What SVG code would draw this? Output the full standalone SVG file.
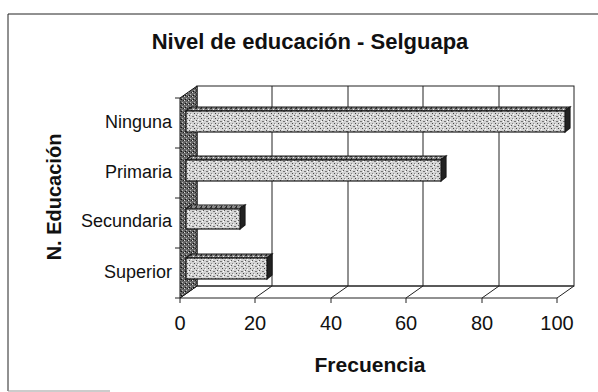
<svg xmlns="http://www.w3.org/2000/svg" width="598" height="392" viewBox="0 0 598 392">
<defs>
<pattern id="pFront" width="7" height="5" patternUnits="userSpaceOnUse">
<rect width="7" height="5" fill="#d4d4d4"/>
<rect x="0" y="0" width="1" height="1" fill="#555"/>
<rect x="3" y="1" width="2" height="1" fill="#777"/>
<rect x="5" y="3" width="1" height="1" fill="#444"/>
<rect x="1" y="3" width="1" height="1" fill="#888"/>
<rect x="2" y="4" width="1" height="1" fill="#fff"/>
<rect x="6" y="1" width="1" height="1" fill="#fff"/>
</pattern>
<pattern id="pTop" width="5" height="3" patternUnits="userSpaceOnUse">
<rect width="5" height="3" fill="#888"/>
<rect x="0" y="0" width="2" height="1" fill="#333"/>
<rect x="3" y="1" width="1" height="1" fill="#eee"/>
<rect x="1" y="2" width="1" height="1" fill="#222"/>
</pattern>
<pattern id="pWall" width="4" height="4" patternUnits="userSpaceOnUse">
<rect width="4" height="4" fill="#666"/>
<rect x="0" y="0" width="1" height="1" fill="#ddd"/>
<rect x="2" y="2" width="1" height="1" fill="#bbb"/>
<rect x="3" y="0" width="1" height="1" fill="#222"/>
<rect x="1" y="3" width="1" height="1" fill="#111"/>
</pattern>
</defs>
<style>
.ln{stroke:#222;stroke-width:1;fill:none}
.bar{stroke:#1a1a1a;stroke-width:1.2}
.cat{font-family:"Liberation Sans",Arial,sans-serif;font-size:18px;fill:#111;text-anchor:end}
.tick{font-family:"Liberation Sans",Arial,sans-serif;font-size:20px;fill:#111;text-anchor:middle}
.ttl{font-family:"Liberation Sans",Arial,sans-serif;font-weight:bold;fill:#111;text-anchor:middle}
</style>
<rect width="598" height="392" fill="#fff"/>
<g id="frame">
<path d="M8,391 V14 H598" class="ln" stroke="#333"/>
<path d="M8,391 H110" stroke="#999" stroke-width="1" fill="none"/>
</g>
<text id="title" class="ttl" x="310" y="49" font-size="22">Nivel de educación - Selguapa</text>
<g id="plot">
<rect x="197" y="86" width="377" height="200" fill="#fff" class="ln"/>
<path d="M180,298 H557 L574,286 H197 Z" fill="#fff" class="ln"/>
<path d="M180,98 L197,86 V286 L180,298 Z" fill="url(#pWall)" stroke="#111"/>
</g>
<g id="connectors">
<path class="ln" d="M272,86 V286 M348,86 V286 M423,86 V286 M499,86 V286"/>
<path class="ln" d="M255,298 L272,286 M331,298 L348,286 M406,298 L423,286 M482,298 L499,286"/>
<path class="ln" d="M180,298 V303 M255,298 V303 M331,298 V303 M406,298 V303 M482,298 V303 M557,298 V303"/>
<path class="ln" d="M175,98 H180 M175,148 H180 M175,198 H180 M175,248 H180 M175,298 H180"/>
</g>
<g id="bar-ninguna">
<path class="bar" fill="url(#pTop)" d="M186,111 L191,107 H570 L565,111 Z"/>
<path class="bar" fill="#222" d="M565,111 L570,107 V128 L565,132 Z"/>
<rect class="bar" fill="url(#pFront)" x="186" y="111" width="379" height="21"/>
</g>
<g id="bar-primaria">
<path class="bar" fill="url(#pTop)" d="M186,160 L191,156 H446 L441,160 Z"/>
<path class="bar" fill="#222" d="M441,160 L446,156 V177 L441,181 Z"/>
<rect class="bar" fill="url(#pFront)" x="186" y="160" width="255" height="21"/>
</g>
<g id="bar-secundaria">
<path class="bar" fill="url(#pTop)" d="M186,209 L191,205 H245 L240,209 Z"/>
<path class="bar" fill="#222" d="M240,209 L245,205 V225 L240,229 Z"/>
<rect class="bar" fill="url(#pFront)" x="186" y="209" width="54" height="20"/>
</g>
<g id="bar-superior">
<path class="bar" fill="url(#pTop)" d="M186,258 L191,254 H272 L267,258 Z"/>
<path class="bar" fill="#222" d="M267,258 L272,254 V275 L267,279 Z"/>
<rect class="bar" fill="url(#pFront)" x="186" y="258" width="81" height="21"/>
</g>
<g id="labels">
<text class="cat" x="172" y="128">Ninguna</text>
<text class="cat" x="172" y="178">Primaria</text>
<text class="cat" x="172" y="227">Secundaria</text>
<text class="cat" x="172" y="278">Superior</text>
<text class="tick" x="180" y="330">0</text>
<text class="tick" x="255" y="330">20</text>
<text class="tick" x="331" y="330">40</text>
<text class="tick" x="406" y="330">60</text>
<text class="tick" x="482" y="330">80</text>
<text class="tick" x="557" y="330">100</text>
<text class="ttl" x="370" y="372" font-size="21">Frecuencia</text>
<text class="ttl" font-size="20" transform="translate(61,197) rotate(-90)">N. Educación</text>
</g>
</svg>
